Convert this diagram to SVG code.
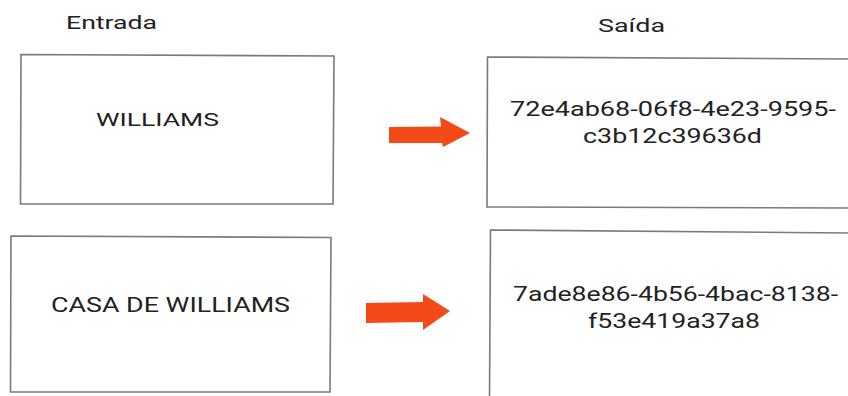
<svg xmlns="http://www.w3.org/2000/svg" width="848" height="396" viewBox="0 0 848 396">
<style>
.box{fill:#ffffff;stroke:#7a7a7a;stroke-width:1.6}
.t{font-family:Roboto,"Liberation Sans",sans-serif;fill:#222222}
.arrow{fill:#f44a18}
</style>
<rect width="848" height="396" fill="#ffffff"/>
<g id="heading-entrada"><text class="t" x="66" y="29" font-size="19" textLength="91" lengthAdjust="spacingAndGlyphs">Entrada</text></g>
<g id="heading-saida"><text class="t" x="598" y="32" font-size="19" textLength="67" lengthAdjust="spacingAndGlyphs">Saída</text></g>
<g id="input1">
<polygon class="box" points="21,54.5 334,56 333,204 20.5,204"/>
<text class="t" x="96" y="126" font-size="18" textLength="123" lengthAdjust="spacingAndGlyphs">WILLIAMS</text>
</g>
<g id="output1">
<polygon class="box" points="487.5,57 852,59 852,208 487,207"/>
<text class="t" x="510" y="116" font-size="20" textLength="326" lengthAdjust="spacingAndGlyphs">72e4ab68-06f8-4e23-9595-</text>
<text class="t" x="583" y="143" font-size="20" textLength="179" lengthAdjust="spacingAndGlyphs">c3b12c39636d</text>
</g>
<g id="input2">
<polygon class="box" points="11,236 331,237.5 330,392 10.5,392"/>
<text class="t" x="51" y="312" font-size="21" textLength="239" lengthAdjust="spacingAndGlyphs">CASA DE WILLIAMS</text>
</g>
<g id="output2">
<polygon class="box" points="490.5,230 852,233 852,400 489.5,400"/>
<text class="t" x="513" y="301" font-size="20" textLength="325" lengthAdjust="spacingAndGlyphs">7ade8e86-4b56-4bac-8138-</text>
<text class="t" x="588" y="328" font-size="20" textLength="172" lengthAdjust="spacingAndGlyphs">f53e419a37a8</text>
</g>
<g id="connectors">
<polygon class="arrow" points="389,127 441,126.5 440,117 470,133 443,147 442,143 389,143"/>
<polygon class="arrow" points="366,303 423,302 423,294 450,311 423,330 423,322 366,323"/>
</g>
</svg>
